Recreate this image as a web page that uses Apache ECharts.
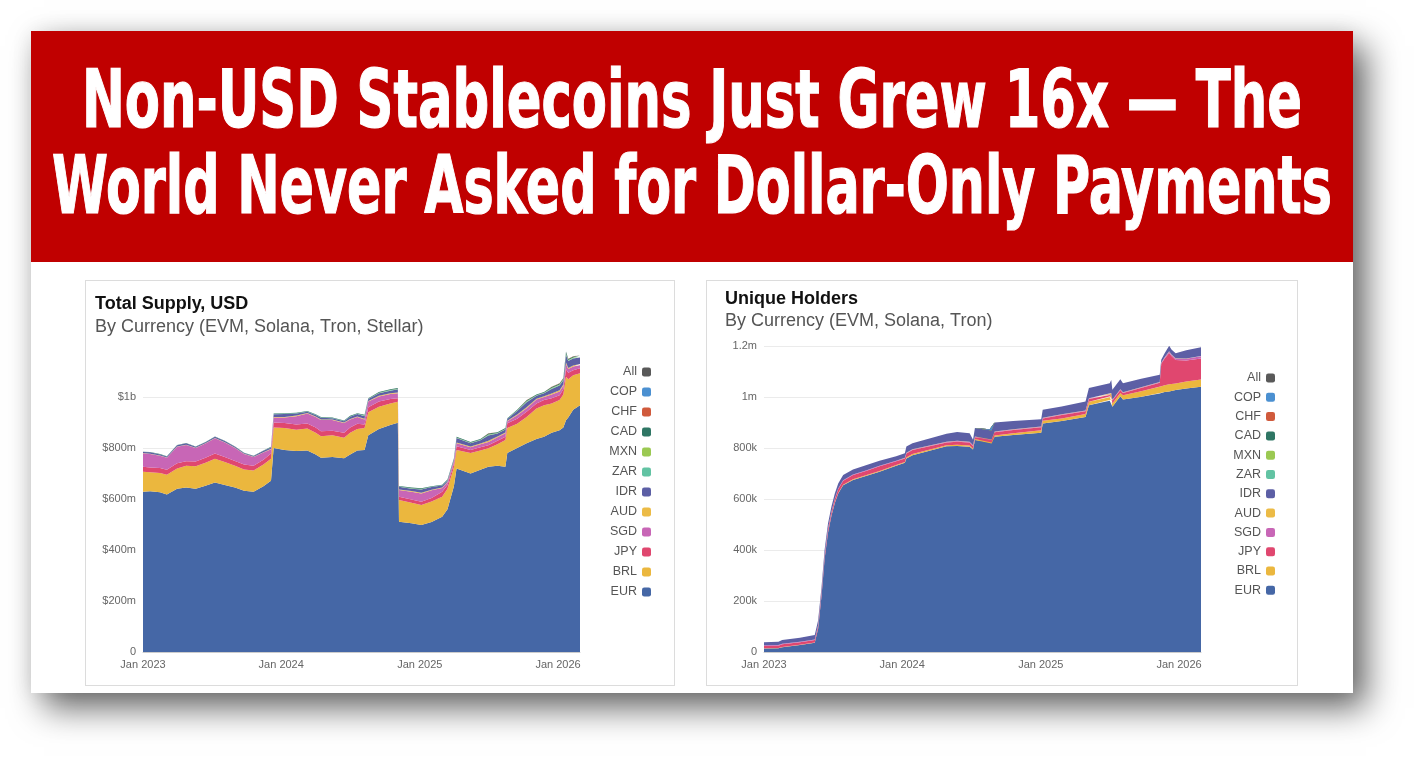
<!DOCTYPE html>
<html>
<head>
<meta charset="utf-8">
<title>Non-USD Stablecoins</title>
<script src="https://cdn.jsdelivr.net/npm/echarts@6/dist/echarts.min.js"></script>
<style>
  html, body { margin: 0; padding: 0; background: #fff; }
  body { width: 1416px; height: 760px; position: relative; overflow: hidden; font-family: "Liberation Sans", Arial, sans-serif; }
  .card { position: absolute; left: 31px; top: 31px; width: 1322px; height: 662px; background: #fff;
          box-shadow: 13px 15px 32px rgba(0,0,0,0.6), 0 0 20px rgba(0,0,0,0.08); }
  .banner { position: absolute; left: 0; top: 0; width: 1322px; height: 231px; background: #c00000; overflow: hidden; }
  .line { position: absolute; left: 0; width: 1322px; height: 80px; color: #fff; white-space: nowrap;
          font-family: "Liberation Sans Narrow", "DejaVu Sans Condensed", "Liberation Sans", sans-serif;
          font-weight: bold; font-size: 80px; line-height: 80px;
          -webkit-text-stroke: 1.2px #fff; }
  .line span { position: absolute; left: 50%; top: 0; display: inline-block; transform-origin: 50% 50%; }
  .panel { position: absolute; top: 249px; height: 406px; outline: 1px solid #dcdcdc; outline-offset: -1px; }
</style>
</head>
<body>
<div class="card">
  <div class="banner">
    <div class="line" style="top:29px"><span id="l1">Non-USD Stablecoins Just Grew 16x — The</span></div>
    <div class="line" style="top:115px"><span id="l2">World Never Asked for Dollar-Only Payments</span></div>
  </div>
  <div class="panel" id="supply" style="left:54px; width:590px;"></div>
  <div class="panel" id="holders" style="left:675px; width:592px;"></div>
</div>
<script>
// ---- Total Supply, USD (millions) ----
var supplyDates = ['2023-01-01','2023-01-20','2023-02-15','2023-03-05','2023-04-01','2023-04-25','2023-05-20','2023-06-15','2023-07-10','2023-08-05',
  '2023-09-01','2023-09-25','2023-10-20','2023-11-15','2023-12-05','2023-12-12','2024-01-10','2024-02-10','2024-03-10','2024-04-01',
  '2024-04-15','2024-05-15','2024-06-15','2024-07-01','2024-07-20','2024-08-08','2024-08-18','2024-09-15','2024-10-15','2024-11-04',
  '2024-11-07','2024-12-10','2025-01-05','2025-02-01','2025-03-01','2025-03-15','2025-04-01','2025-04-08','2025-05-15','2025-06-10',
  '2025-07-01','2025-07-25','2025-08-15','2025-08-20','2025-09-15','2025-10-10','2025-11-05','2025-11-25','2025-12-15','2026-01-05',
  '2026-01-15','2026-01-22','2026-01-28','2026-02-10','2026-02-28'];
var supplyEUR = [628,630,626,618,640,645,640,652,665,655, 645,632,628,650,672,800,792,788,790,775,
  762,765,760,775,790,792,850,875,890,899, 511,505,498,510,530,560,650,720,700,715,
  726,730,726,780,800,819,835,844,860,870, 880,909,920,950,968];
var supplyBRL = [79,75,76,77,80,85,88,90,93,90, 85,84,84,85,86,80,86,84,86,85,
  84,85,80,85,85,86,90,87,85,82, 85,80,78,80,79,80,75,72,80,75,
  73,85,105,98,95,103,120,124,115,118, 130,170,150,135,125];
var supplyJPY = [19,19,20,20,20,18,19,20,20,20, 19,19,18,19,20,20,20,20,20,20,
  20,18,20,20,20,14,20,20,17,14, 13,13,13,14,19,15,13,15,12,13,
  12,13,13,19,20,20,20,20,20,19, 20,30,25,20,20];
var supplySGD = [53,52,48,47,65,64,53,56,60,57, 51,41,35,28,17,20,22,33,39,42,
  44,42,38,32,27,20,22,20,20,20, 26,30,33,30,15,11,10,12,11,12,
  13,14,14,8,13,14,15,12,15,15, 15,20,15,15,12];
var supplyAUD = [1,1,1,1,1,1,1,1,1,1, 1,1,1,1,2,2,2,2,2,2,
  2,2,2,2,2,3,2,3,3,3, 2,3,3,2,2,2,2,3,3,3,
  4,3,3,2,3,4,3,3,4,4, 4,6,4,4,4];
var supplyIDR = [4,6,4,4,5,6,4,4,5,4, 4,3,3,6,5,10,11,8,5,5,
  7,5,5,9,9,10,8,10,10,12, 11,9,12,11,8,5,7,17,13,12,
  21,12,12,7,14,19,12,12,17,19, 17,30,27,27,26];
var supplyZAR = [0,0,0,0,0,0,0,0,0,0, 0,0,0,0,1,1,1,1,1,1,
  1,1,1,1,1,1,1,1,1,1, 1,1,1,1,1,1,1,1,1,1,
  2,1,1,1,1,2,1,1,2,2, 2,3,2,2,2];
var supplyMXN = [0,0,0,0,0,0,0,0,0,0, 0,0,0,0,0,0,0,0,0,0,
  0,0,0,0,0,1,0,1,1,1, 0,1,1,0,0,0,0,1,1,1,
  2,1,1,0,1,2,1,1,2,2, 2,2,2,2,2];
var supplyCAD = [1,1,1,1,1,1,1,1,1,1, 1,1,1,1,2,2,2,2,2,2,
  2,2,2,2,2,3,2,3,3,3, 2,3,3,2,2,2,2,3,3,3,
  4,3,3,2,3,4,3,3,4,4, 4,7,4,4,4];
var supplyCHF = [0,0,0,0,0,0,0,0,0,0, 0,0,0,0,0,0,0,0,0,0,
  0,0,0,0,0,0,0,0,0,0, 0,0,0,0,0,0,0,0,0,0,
  1,0,0,0,0,1,0,0,1,1, 1,1,1,1,1];
var supplyCOP = [0,0,0,0,0,0,0,0,0,0, 0,0,0,0,0,0,0,0,0,0,
  0,0,0,0,0,0,0,0,0,0, 0,0,0,0,0,0,0,0,0,0,
  0,0,0,0,0,0,0,0,0,0, 0,1,0,0,0];
var supplyTicks = ['0', '$200m', '$400m', '$600m', '$800m', '$1b'];

// ---- Unique Holders (thousands) ----
var holderDates = ['2023-01-01','2023-02-08','2023-02-18','2023-04-06','2023-05-15','2023-05-24','2023-06-02','2023-06-10','2023-06-19','2023-06-28',
  '2023-07-07','2023-07-16','2023-07-29','2023-08-24','2023-09-29','2023-11-02','2023-12-16','2024-01-08','2024-01-12','2024-01-28',
  '2024-04-27','2024-05-25','2024-06-27','2024-07-06','2024-07-11','2024-08-19','2024-08-24','2024-09-01','2024-10-20','2025-01-02',
  '2025-01-06','2025-02-25','2025-04-29','2025-05-08','2025-07-02','2025-07-06','2025-07-09','2025-07-30','2025-08-06','2025-09-20',
  '2025-11-11','2025-11-15','2025-11-24','2025-12-06','2025-12-12','2025-12-23','2026-01-20','2026-02-28'];
var holderEUR = [14,15,19,27,36,92,222,365,468,533, 584,622,654,675,691,707,730,742,759,772,
  807,808,805,794,831,824,818,844,851,860, 896,906,922,968,985,990,962,1003,990,1000,
  1014,1017,1020,1022,1024,1027,1033,1040];
var holderBRL = [1,1,1,1,1,1,1,1,1,2, 2,2,2,2,3,3,3,3,4,4,
  4,5,5,4,4,4,4,5,7,10, 11,10,11,13,14,14,13,13,17,22,
  26,25,26,28,27,26,28,29];
var holderJPY = [9,9,10,10,10,11,12,12,13,13, 14,15,16,17,17,18,15,14,15,16,
  11,12,12,10,7,8,8,13,13,11, 9,13,11,11,9,9,11,11,9,12,
  16,88,105,123,110,92,82,82];
var holderSGD = [2,2,2,2,2,2,2,2,2,2, 2,2,2,2,2,2,2,2,2,2,
  2,2,2,2,2,2,2,2,2,2, 2,2,2,2,2,2,2,2,2,2,
  2,3,4,5,5,6,7,9];
var holderAUD = [0,0,0,0,0,0,0,0,0,0, 0,0,0,0,0,0,0,1,1,1,
  1,1,1,1,1,1,1,1,1,1, 1,1,1,1,1,1,1,1,1,1,
  1,1,1,1,1,1,1,1];
var holderIDR = [12,13,15,16,18,19,19,20,20,20, 20,20,20,20,20,20,18,17,25,24,
  31,35,33,21,33,35,36,35,32,29, 31,31,35,40,43,51,39,40,35,34,
  28,12,16,22,19,20,32,34];
var holderZAR = [0,0,0,0,0,0,0,0,0,0, 0,0,0,0,0,0,0,0,0,0,
  0,0,0,0,0,0,0,0,0,0, 0,0,0,0,0,0,0,0,0,0,
  0,0,0,0,0,0,0,0];
var holderMXN = holderZAR, holderCAD = holderZAR, holderCHF = holderZAR, holderCOP = holderZAR;
var holderTicks = ['0', '200k', '400k', '600k', '800k', '1m', '1.2m'];

var stackOrder = ['EUR','BRL','JPY','SGD','AUD','IDR','ZAR','MXN','CAD','CHF','COP'];
var legendOrder = ['All','COP','CHF','CAD','MXN','ZAR','IDR','AUD','SGD','JPY','BRL','EUR'];
var colors = { EUR:'#4567a6', BRL:'#ebb73e', JPY:'#e0476f', SGD:'#c866b6', AUD:'#ecbb46', IDR:'#5c5fa5',
  ZAR:'#62c3a3', MXN:'#9bc952', CAD:'#2f7664', CHF:'#d05a3c', COP:'#4b90d1', All:'#595959' };
var FONT = '"Liberation Sans", Arial, sans-serif';

function buildSeries(dates, values) {
  var list = stackOrder.map(function (name) {
    return {
      name: name, type: 'line', stack: 'total', symbol: 'none', showSymbol: false,
      lineStyle: { width: 0 }, itemStyle: { color: colors[name] },
      areaStyle: { color: colors[name], opacity: 1 },
      emphasis: { disabled: true },
      data: dates.map(function (d, i) { return [d, values[name][i]]; })
    };
  });
  list.push({ name: 'All', type: 'line', symbol: 'none', itemStyle: { color: colors.All }, data: [] });
  return list;
}

// only January 1st ticks get a label
function yearLabel(v) {
  var d = new Date(v);
  return (d.getMonth() === 0 && d.getDate() === 1) ? 'Jan ' + d.getFullYear() : '';
}

function makeChart(el, cfg) {
  var chart = echarts.init(el);
  chart.setOption({
    animation: false,
    textStyle: { fontFamily: FONT },
    title: {
      left: cfg.titleLeft, top: cfg.titleTop, itemGap: cfg.titleGap,
      text: cfg.title, subtext: cfg.subtitle,
      textStyle: { fontFamily: FONT, fontSize: 18, fontWeight: 'bold', color: '#111', lineHeight: 20 },
      subtextStyle: { fontFamily: FONT, fontSize: 18, color: '#555', lineHeight: 20 }
    },
    legend: {
      orient: 'vertical', right: cfg.legendRight, top: cfg.legendTop, align: 'right',
      icon: 'roundRect', itemWidth: 9, itemHeight: 9, itemGap: cfg.legendGap,
      data: legendOrder, selectedMode: false,
      textStyle: { fontFamily: FONT, fontSize: 12.5, color: '#555', lineHeight: 14 }
    },
    grid: { left: 58, right: cfg.gridRight, top: 66, bottom: 34 },
    xAxis: {
      type: 'time', min: '2023-01-01', max: '2026-02-28',
      axisLine: { show: true, lineStyle: { color: '#cccccc' } },
      axisTick: { show: false },
      splitLine: { show: false },
      axisLabel: { color: '#666', fontSize: 11, margin: 7, hideOverlap: false, showMinLabel: true, formatter: yearLabel }
    },
    yAxis: {
      type: 'value', min: 0, max: 1200, interval: 200,
      axisLine: { show: false }, axisTick: { show: false },
      splitLine: { lineStyle: { color: '#ebebeb' }, showMaxLine: cfg.showTop },
      axisLabel: {
        color: '#666', fontSize: 11, margin: 7, showMaxLabel: cfg.showTop,
        formatter: function (v) { return cfg.ticks[Math.round(v / 200)] || ''; }
      }
    },
    series: buildSeries(cfg.dates, cfg.values)
  });
  return chart;
}

// squeeze the banner lines to the width they take in the picture
function fitBanner() {
  [['l1', 1220], ['l2', 1280]].forEach(function (p) {
    var s = document.getElementById(p[0]);
    s.style.transform = 'translateX(-50%)';
    var w = s.getBoundingClientRect().width;
    s.style.transform = 'translateX(-50%) scaleX(' + (p[1] / w) + ')';
  });
}
fitBanner();
if (document.fonts && document.fonts.ready) document.fonts.ready.then(fitBanner);

makeChart(document.getElementById('supply'), {
  title: 'Total Supply, USD', subtitle: 'By Currency (EVM, Solana, Tron, Stellar)',
  titleLeft: 5, titleTop: 9, titleGap: 3,
  legendRight: 19, legendTop: 80, legendGap: 6, gridRight: 95,
  ticks: supplyTicks, showTop: false, dates: supplyDates,
  values: { EUR: supplyEUR, BRL: supplyBRL, JPY: supplyJPY, SGD: supplySGD, AUD: supplyAUD, IDR: supplyIDR,
            ZAR: supplyZAR, MXN: supplyMXN, CAD: supplyCAD, CHF: supplyCHF, COP: supplyCOP }
});

makeChart(document.getElementById('holders'), {
  title: 'Unique Holders', subtitle: 'By Currency (EVM, Solana, Tron)',
  titleLeft: 14, titleTop: 4, titleGap: 2,
  legendRight: 18, legendTop: 86, legendGap: 5.3, gridRight: 97,
  ticks: holderTicks, showTop: true, dates: holderDates,
  values: { EUR: holderEUR, BRL: holderBRL, JPY: holderJPY, SGD: holderSGD, AUD: holderAUD, IDR: holderIDR,
            ZAR: holderZAR, MXN: holderMXN, CAD: holderCAD, CHF: holderCHF, COP: holderCOP }
});
</script>
</body>
</html>
